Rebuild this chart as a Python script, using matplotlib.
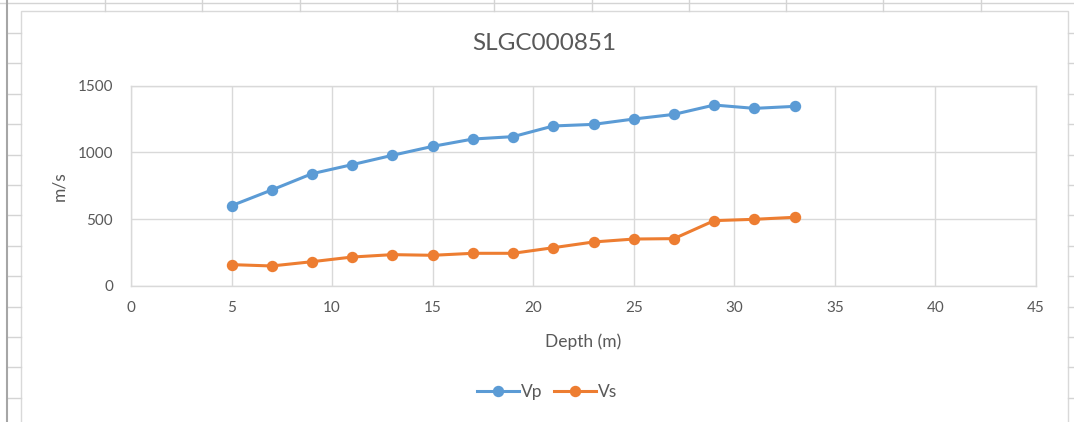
import numpy as np
import matplotlib.pyplot as plt
from matplotlib.lines import Line2D
from matplotlib.patches import Rectangle

# Data
depth = [5, 7, 9, 11, 13, 15, 17, 19, 21, 23, 25, 27, 29, 31, 33]
vp = [600, 718, 840, 908, 978, 1045, 1100, 1118, 1198, 1210, 1250, 1285, 1355, 1330, 1345]
vs = [158, 148, 180, 215, 233, 228, 243, 243, 285, 328, 350, 353, 488, 498, 513]

xticks = np.arange(0, 46, 5)
yticks = np.arange(0, 1501, 500)

plt.rcParams['font.family'] = ['Lato', 'DejaVu Sans']

W, H = 1074, 422
fig = plt.figure(figsize=(W / 100, H / 100), dpi=100)
fig.patch.set_facecolor('white')


def px_line(x0, y0, x1, y1, color='#d4d4d4', lw=1.0):
    # figure-level line given in pixel coords (origin top-left)
    fig.add_artist(Line2D([x0 / W, x1 / W], [1 - y0 / H, 1 - y1 / H],
                          transform=fig.transFigure, color=color, lw=lw))


# spreadsheet cell lines around the chart object
px_line(0, 3, W, 3)
for cx in 105 + 97.3 * np.arange(10):
    px_line(cx, 0, cx, 11)
for ry in 33 + 30.4 * np.arange(13):
    px_line(7, ry, 21, ry)
    px_line(1068, ry, W, ry)
px_line(7, 0, 7, H, color='#a6a6a6', lw=1.5)

# chart area border
fig.add_artist(Rectangle((21 / W, -0.01), (1068 - 21) / W, 1 - 11 / H + 0.01,
                         transform=fig.transFigure, facecolor='white',
                         edgecolor='#d9d9d9', lw=1.0, zorder=0))

ax = fig.add_axes([131 / W, 1 - 285.7 / H, (1036 - 131) / W, 200 / H])
ax.set_facecolor('none')

ax.plot(depth, vp, '-o', color='#5B9BD5', lw=2.2, markersize=7.2, label='Vp', zorder=3)
ax.plot(depth, vs, '-o', color='#ED7D31', lw=2.2, markersize=7.2, label='Vs', zorder=3)

ax.set_xlim(0, 45)
ax.set_ylim(0, 1500)
ax.set_xticks(xticks)
ax.set_yticks(yticks)
ax.grid(True, color='#d9d9d9', lw=1.0)
ax.set_axisbelow(True)
for s in ax.spines.values():
    s.set_color('#d9d9d9')
    s.set_linewidth(1.0)
ax.tick_params(length=0, labelsize=11, labelcolor='#595959')
ax.tick_params(axis='x', pad=11)
ax.tick_params(axis='y', pad=13)

ax.set_xlabel('Depth (m)', fontsize=12.5, color='#595959', labelpad=13)
ax.set_ylabel('m/s', fontsize=12.5, color='#595959', labelpad=7)

fig.text(544.5 / W, 1 - 44 / H, 'SLGC000851', ha='center', va='center',
         fontsize=17.5, color='#595959')

fig.legend(loc='center', bbox_to_anchor=(547 / W, 1 - 392 / H), ncol=2,
           frameon=False, fontsize=12.5, handlelength=2.4, handletextpad=0.1,
           columnspacing=0.7, labelcolor='#595959')

fig.savefig('out.png', dpi=100)
